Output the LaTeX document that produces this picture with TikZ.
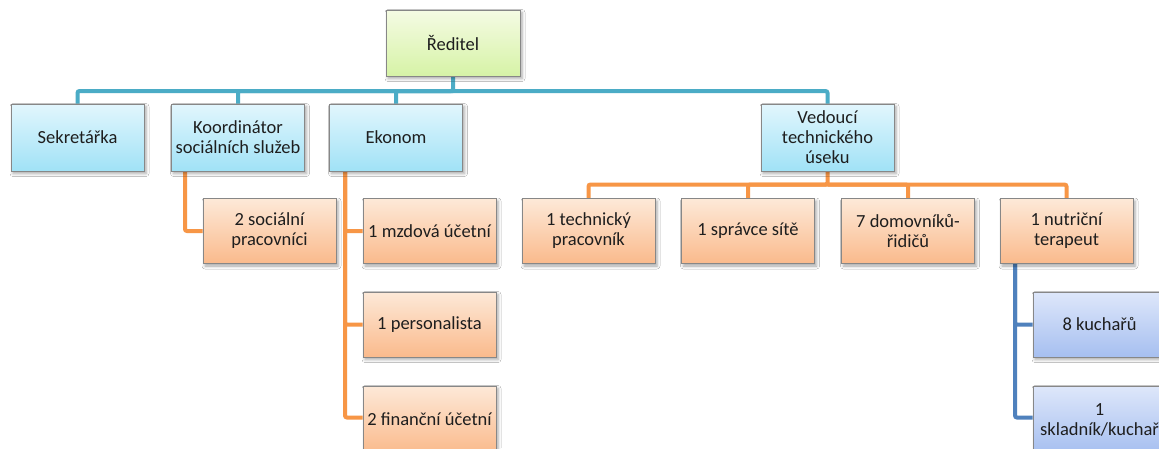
\documentclass[tikz,border=0pt]{standalone}
\usepackage{fontspec}
\setmainfont{Carlito}
\usetikzlibrary{shadows.blur,backgrounds}
\definecolor{bluetop}{RGB}{226,246,253}
\definecolor{bluebot}{RGB}{160,226,246}
\definecolor{orgtop}{RGB}{253,233,216}
\definecolor{orgbot}{RGB}{250,186,140}
\definecolor{grntop}{RGB}{245,251,228}
\definecolor{grnbot}{RGB}{214,243,166}
\definecolor{prptop}{RGB}{222,231,250}
\definecolor{prpbot}{RGB}{166,191,240}
\definecolor{boxline}{RGB}{135,135,135}
\definecolor{lineblue}{RGB}{75,172,198}
\definecolor{lineorange}{RGB}{247,150,70}
\definecolor{linedark}{RGB}{79,129,189}
\definecolor{txt}{RGB}{30,30,30}
\tikzset{
  box/.style={draw=boxline, line width=0.8pt, minimum width=133, minimum height=67,
    inner sep=0pt, align=center, text=txt,
    font=\fontsize{18.5}{20}\selectfont,
    blur shadow={shadow xshift=2pt, shadow yshift=-2.5pt, shadow blur radius=3pt, shadow opacity=35}},
  bluebox/.style={box, top color=bluetop, bottom color=bluebot},
  orgbox/.style={box, top color=orgtop, bottom color=orgbot},
  grnbox/.style={box, top color=grntop, bottom color=grnbot},
  prpbox/.style={box, top color=prptop, bottom color=prpbot},
  conn/.style={line width=4pt, rounded corners=2pt},
  cblue/.style={conn, draw=lineblue},
  corange/.style={conn, draw=lineorange},
  cdark/.style={conn, draw=linedark},
}
\begin{document}
\begin{tikzpicture}[x=1pt,y=-1pt]
\useasboundingbox (0,0) rectangle (1159,448);
\clip (0,0) rectangle (1159,448);
% boxes
\node[grnbox, minimum width=134, minimum height=66] (dir) at (453,43) {Ředitel};
\node[bluebox] (sek) at (77.5,137.5) {Sekretářka};
\node[bluebox] (koord) at (238,137.5) {Koordinátor\\sociálních služeb};
\node[bluebox] (ekon) at (396,137.5) {Ekonom};
\node[bluebox] (ved) at (827.5,137.5) {Vedoucí\\technického\\úseku};
\node[orgbox, minimum height=65] (soc) at (269.5,231) {2 sociální\\pracovníci};
\node[orgbox, minimum height=65] (mzd) at (429.5,231) {1 mzdová účetní};
\node[orgbox, minimum height=65] (pers) at (429.5,324.5) {1 personalista};
\node[orgbox] (fin) at (429.5,419.5) {2 finanční účetní};
\node[orgbox, minimum height=65] (tech) at (588.5,231) {1 technický\\pracovník};
\node[orgbox, minimum height=65] (spr) at (748,231) {1 správce sítě};
\node[orgbox, minimum height=65] (dom) at (908,231) {7 domovníků-\\řidičů};
\node[orgbox, minimum height=65] (nut) at (1066.5,231) {1 nutriční\\terapeut};
\node[prpbox, minimum height=65] (kuch) at (1099.5,324.5) {8 kuchařů};
\node[prpbox] (sklad) at (1099.5,419.5) {1\\skladník/kuchař};
% connectors behind the boxes
\begin{scope}[on background layer]
\fill[white] (0,0) rectangle (1159,448);
\coordinate (db) at (453,91);
\coordinate (vb) at (827.5,184.5);
\draw[cblue] (dir.south) -- (db) -| (sek.north);
\draw[cblue] (db) -| (koord.north);
\draw[cblue] (db) -| (ekon.north);
\draw[cblue] (db) -| (ved.north);
\draw[corange] (ved.south) -- (vb) -| (tech.north);
\draw[corange] (vb) -| (spr.north);
\draw[corange] (vb) -| (dom.north);
\draw[corange] (vb) -| (nut.north);
\draw[corange] ([xshift=-53pt]koord.south) |- (soc.west);
\draw[corange] ([xshift=-51pt]ekon.south) |- (mzd.west);
\draw[corange] ([xshift=-51pt]ekon.south) |- (pers.west);
\draw[corange] ([xshift=-51pt]ekon.south) |- ([yshift=2pt]fin.west);
\draw[cdark] ([xshift=-51.5pt]nut.south) |- (kuch.west);
\draw[cdark] ([xshift=-51.5pt]nut.south) |- ([yshift=2pt]sklad.west);
\end{scope}
\end{tikzpicture}
\end{document}
